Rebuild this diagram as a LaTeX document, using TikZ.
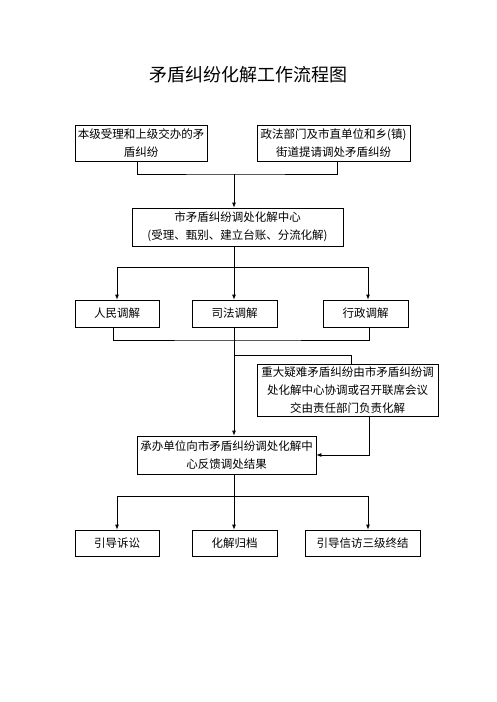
\documentclass[tikz,border=0pt]{standalone}
\usepackage{fontspec}
\setmainfont{Noto Sans CJK SC}
\usepackage{tikz}
\usetikzlibrary{calc, arrows.meta}

\begin{document}
\begin{tikzpicture}[x=1pt, y=-1pt, line width=0.8pt,
    box/.style={draw, inner sep=0pt, align=center, font=\fontsize{11.5}{18}\selectfont},
    arr/.style={-{Latex[length=5pt, width=4pt]}}]

    \useasboundingbox (0,0) rectangle (496,702);

    % Title
    \node[font=\fontsize{18}{22}\selectfont] (title) at (248,75) {矛盾纠纷化解工作流程图};

    % Boxes
    \node[box, minimum width=132pt, minimum height=36pt] (src1) at (141,143) {本级受理和上级交办的矛\\盾纠纷};
    \node[box, minimum width=153pt, minimum height=36pt] (src2) at (333.5,143) {政法部门及市直单位和乡(镇)\\街道提请调处矛盾纠纷};
    \node[box, minimum width=211pt, minimum height=38pt] (hub) at (237.5,227) {市矛盾纠纷调处化解中心\\(受理、甄别、建立台账、分流化解)};

    \node[box, minimum width=84pt, minimum height=27pt] (med1) at (117,313.5) {人民调解};
    \node[box, minimum width=85pt, minimum height=27pt] (med2) at (234.5,313.5) {司法调解};
    \node[box, minimum width=85pt, minimum height=27pt] (med3) at (365.5,313.5) {行政调解};

    \node[box, minimum width=181pt, minimum height=52pt] (hard) at (347.5,390) {重大疑难矛盾纠纷由市矛盾纠纷调\\处化解中心协调或召开联席会议\\交由责任部门负责化解};
    \node[box, minimum width=179pt, minimum height=38pt] (back) at (226.5,455) {承办单位向市矛盾纠纷调处化解中\\心反馈调处结果};

    \node[box, minimum width=84pt, minimum height=26pt] (end1) at (117,543) {引导诉讼};
    \node[box, minimum width=85pt, minimum height=26pt] (end2) at (234.5,543) {化解归档};
    \node[box, minimum width=115pt, minimum height=26pt] (end3) at (362.5,543) {引导信访三级终结};

    % Coordinates on the spine
    \coordinate (s1) at (234,174);
    \coordinate (s2) at (234,267);
    \coordinate (s3) at (234,340);
    \coordinate (s4) at (234,355);
    \coordinate (s5) at (234,496);

    % Sources into the centre
    \draw ([xshift=-4pt]src1.south) |- (s1) -| ([xshift=3.5pt]src2.south);
    \draw[arr] (s1) -- (s1 |- hub.north);

    % ---- Split into the three mediations ----
    \draw (s1 |- hub.south) -- (s2);
    \draw[arr] (s2) -| (med1.north);
    \draw[arr] (s2) -- (s2 |- med2.north);
    \draw[arr] (s2) -| ([xshift=2.5pt]med3.north);

    % ---- Join and feedback ----
    \draw ([xshift=-4pt]med1.south) |- (s3) -| ([xshift=3.5pt]med3.south);
    \draw (s2 |- med2.south) -- (s3);
    \draw[arr] (s3) -- (s3 |- back.north);
    \draw (s4) -| ([xshift=4pt]hard.north);
    \draw[arr] ([xshift=21.5pt]hard.south) |- (back.east);

    % ---- Final outcomes ----
    \draw (s5 |- back.south) -- (s5);
    \draw[arr] (s5) -| (end1.north);
    \draw[arr] (s5) -- (s5 |- end2.north);
    \draw[arr] (s5) -| ([xshift=5.5pt]end3.north);
\end{tikzpicture}
\end{document}
